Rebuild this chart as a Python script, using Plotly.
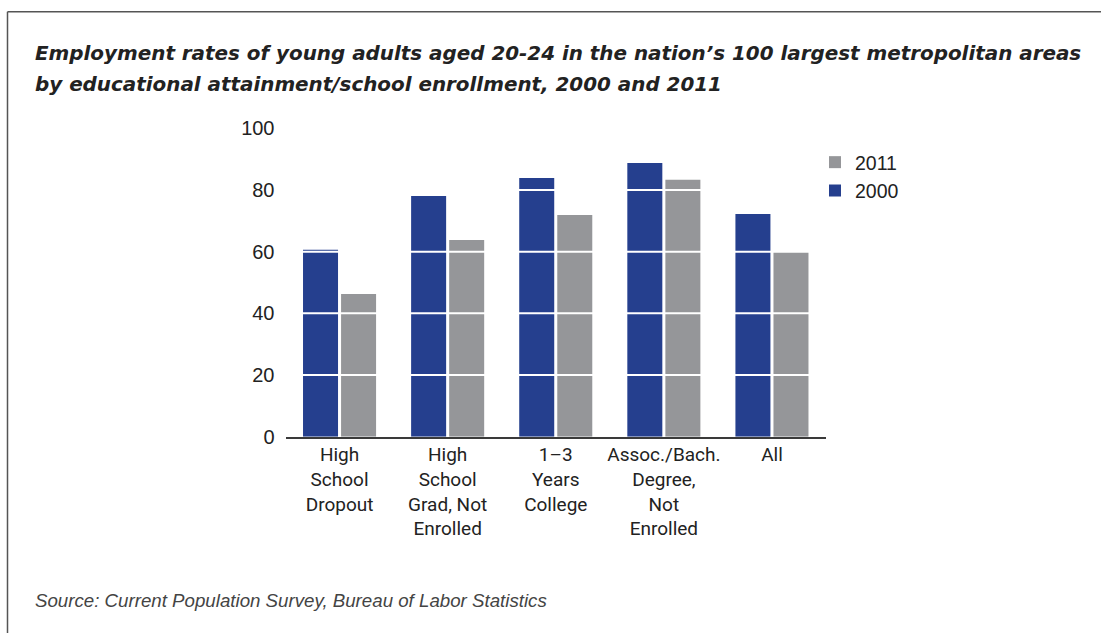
import plotly.graph_objects as go

W, H = 1101, 644

categories = [
    "High<br>School<br>Dropout",
    "High<br>School<br>Grad, Not<br>Enrolled",
    "1–3<br>Years<br>College",
    "Assoc./Bach.<br>Degree,<br>Not<br>Enrolled",
    "All",
]
values_2000 = [60.6, 78.1, 83.9, 88.8, 72.2]
values_2011 = [46.3, 63.8, 71.9, 83.3, 60.2]
y_ticks = [0, 20, 40, 60, 80, 100]

NAVY = "#253F8E"
GRAY = "#959699"


def fy(py):
    """vertical position (target picture px from top) -> paper fraction"""
    return 1 - max((py - 10) / 0.966, 0.75) / H


fig = go.Figure()
fig.add_trace(go.Bar(name="2000", x=categories, y=values_2000, marker=dict(color=NAVY, line=dict(width=0))))
fig.add_trace(go.Bar(name="2011", x=categories, y=values_2011, marker=dict(color=GRAY, line=dict(width=0))))

x0p, x1p = 285.5 / W, 826 / W
y0p, y1p = fy(435.7), fy(127.4)

shapes = []
for t in y_ticks[1:-1]:
    shapes.append(dict(type="line", xref="paper", yref="y", x0=x0p, x1=x1p, y0=t, y1=t,
                       line=dict(color="white", width=2), layer="above"))
shapes.append(dict(type="line", xref="paper", yref="paper", x0=7.5 / W, x1=1, y0=fy(8), y1=fy(8),
                   line=dict(color="#555555", width=1.5)))
shapes.append(dict(type="line", xref="paper", yref="paper", x0=7.5 / W, x1=7.5 / W, y0=0, y1=fy(8),
                   line=dict(color="#555555", width=1.5)))

title_font = dict(family="DejaVu Sans", size=19.9, color="#222222")
annotations = [
    dict(text="<b><i>Employment rates of young adults aged 20-24 in the nation’s 100 largest metropolitan areas</i></b>",
         xref="paper", yref="paper", x=33 / W, y=fy(53), xanchor="left", yanchor="middle",
         showarrow=False, font=title_font),
    dict(text="<b><i>by educational attainment/school enrollment, 2000 and 2011</i></b>",
         xref="paper", yref="paper", x=33 / W, y=fy(83.5), xanchor="left", yanchor="middle",
         showarrow=False, font=title_font),
    dict(text="<i>Source: Current Population Survey, Bureau of Labor Statistics</i>",
         xref="paper", yref="paper", x=33 / W, y=fy(600), xanchor="left", yanchor="middle",
         showarrow=False, font=dict(family="Liberation Sans", size=18.7, color="#444444")),
]

fig.update_layout(
    width=W, height=H,
    margin=dict(l=0, r=0, t=0, b=0),
    paper_bgcolor="white", plot_bgcolor="white",
    barmode="group", bargap=0.296, bargroupgap=0.08,
    showlegend=True,
    legend=dict(traceorder="reversed", x=815 / W, y=fy(142), xanchor="left", yanchor="top",
                font=dict(family="Liberation Sans", size=19.5, color="#222222"),
                itemwidth=30, tracegroupgap=0, bgcolor="rgba(0,0,0,0)"),
    xaxis=dict(domain=[x0p, x1p], showline=True, linecolor="#3a3a3a", linewidth=1.5,
               ticks="", showgrid=False,
               tickfont=dict(family="Roboto", size=19, color="#222222")),
    yaxis=dict(domain=[y0p, y1p], range=[0, 100], tickvals=y_ticks, showgrid=False,
               zeroline=False, showline=False, ticks="", ticklabelstandoff=10,
               tickfont=dict(family="Liberation Sans", size=20, color="#222222")),
    shapes=shapes, annotations=annotations,
    font=dict(family="Liberation Sans"),
)

fig.write_html("out.html")
